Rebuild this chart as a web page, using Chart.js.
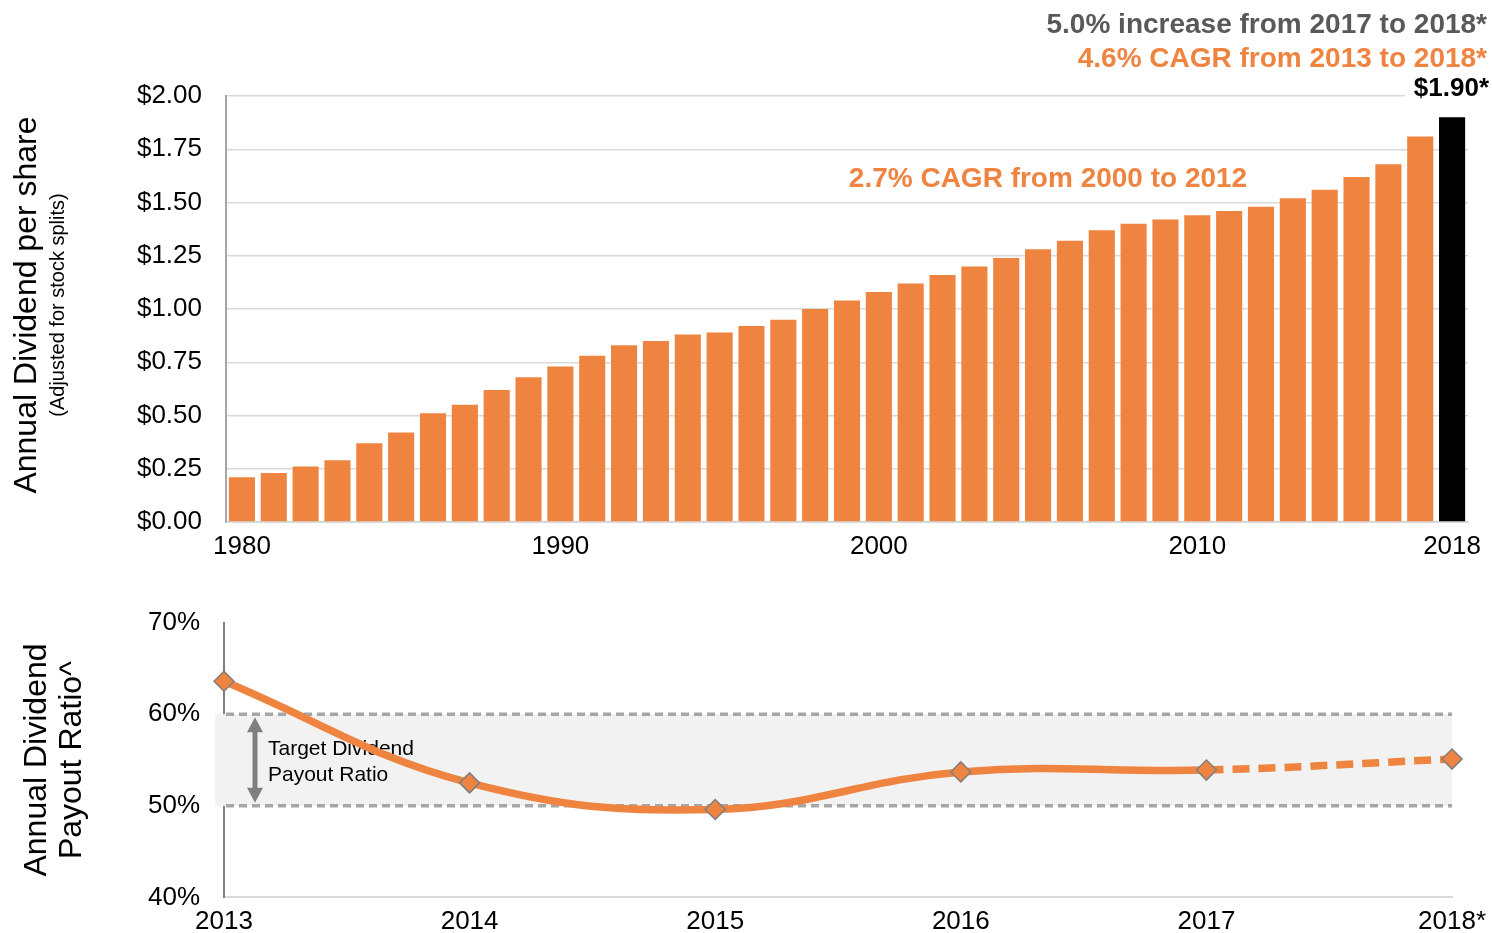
<!DOCTYPE html>
<html>
<head>
<meta charset="utf-8">
<script src="https://cdn.jsdelivr.net/npm/chart.js@4"></script>
<style>
  body { margin: 0; background: #fff; overflow: hidden; }
  #wrap { position: relative; width: 1492px; height: 933px; overflow: hidden; }
  #top { position: absolute; left: 0; top: 0; }
  #bottom { position: absolute; left: 0; top: 583px; }
</style>
</head>
<body>
<div id="wrap">
  <canvas id="top" width="1492" height="570"></canvas>
  <canvas id="bottom" width="1495" height="354"></canvas>
</div>
<script>
// ---- data ----
const years = [1980,1981,1982,1983,1984,1985,1986,1987,1988,1989,
  1990,1991,1992,1993,1994,1995,1996,1997,1998,1999,
  2000,2001,2002,2003,2004,2005,2006,2007,2008,2009,
  2010,2011,2012,2013,2014,2015,2016,2017,2018];
const dividends = [0.21,0.23,0.26,0.29,0.37,0.42,0.51,0.55,0.62,0.68,
  0.73,0.78,0.83,0.85,0.88,0.89,0.92,0.95,1.00,1.04,
  1.08,1.12,1.16,1.20,1.24,1.28,1.32,1.37,1.40,1.42,
  1.44,1.46,1.48,1.52,1.56,1.62,1.68,1.81,1.90];
const shownYears = [1980, 1990, 2000, 2010, 2018];
const payoutYears = ["2013","2014","2015","2016","2017","2018*"];
const payoutRatio = [63.6, 52.5, 49.6, 53.7, 53.9, 55.1];
const targetRange = [50, 60];

const ORANGE = "#EE8440";
const FONT = "'Liberation Sans', Arial, sans-serif";

Chart.defaults.font.family = FONT;
Chart.defaults.color = "#000";
Chart.defaults.animation = false;

// ---- Dividend per share (bars) ----
const topText = {
  id: "topText",
  afterDraw(chart) {
    const c = chart.ctx;
    const y = chart.scales.y;
    c.save();
    c.save();
    c.translate(27, 305);
    c.rotate(-Math.PI / 2);
    c.textAlign = "center";
    c.textBaseline = "middle";
    c.fillStyle = "#000";
    c.font = "32px " + FONT;
    c.fillText("Annual Dividend per share", 0, 0);
    c.font = "20px " + FONT;
    c.fillText("(Adjusted for stock splits)", 0, 31);
    c.restore();

    c.textAlign = "right";
    c.textBaseline = "middle";
    c.font = "bold 28px " + FONT;
    c.fillStyle = "#595959";
    c.fillText("5.0% increase from 2017 to 2018*", 1487, 25);
    c.fillStyle = ORANGE;
    c.fillText("4.6% CAGR from 2013 to 2018*", 1487, 59);

    c.fillStyle = "#fff";
    c.fillRect(1405, y.getPixelForValue(2) - 3, 87, 8);
    c.fillStyle = "#000";
    c.font = "bold 26px " + FONT;
    c.fillText("$1.90*", 1489, 89);

    c.textAlign = "center";
    c.fillStyle = ORANGE;
    c.font = "bold 28px " + FONT;
    c.fillText("2.7% CAGR from 2000 to 2012", 1048, 179);
    c.restore();
  }
};

new Chart(document.getElementById("top"), {
  type: "bar",
  data: {
    labels: years,
    datasets: [{
      data: dividends,
      backgroundColor: years.map(yr => yr === 2018 ? "#000" : ORANGE),
      borderWidth: 0,
      barPercentage: 0.82,
      categoryPercentage: 1
    }]
  },
  options: {
    responsive: false,
    layout: { padding: { top: 96, right: 24, left: 0, bottom: 0 } },
    plugins: { legend: { display: false }, tooltip: { enabled: false } },
    scales: {
      x: {
        grid: { display: false, drawTicks: false },
        border: { color: "#D9D9D9", width: 2 },
        ticks: {
          autoSkip: false, maxRotation: 0, padding: 9,
          font: { size: 26 },
          callback: function (v) {
            const yr = this.getLabelForValue(v);
            return shownYears.includes(Number(yr)) ? String(yr) : "";
          }
        },
        afterFit: s => { s.height = 48; }
      },
      y: {
        min: 0, max: 2,
        grid: { color: "#D9D9D9", lineWidth: 1.5, drawTicks: false },
        border: { color: "#A6A6A6", width: 2 },
        ticks: {
          stepSize: 0.25, padding: 24,
          font: { size: 26 },
          callback: v => "$" + v.toFixed(2)
        },
        afterFit: s => { s.width = 226; }
      }
    }
  },
  plugins: [topText]
});

// ---- Payout ratio (line) ----
const targetBand = {
  id: "targetBand",
  beforeDatasetsDraw(chart) {
    const c = chart.ctx;
    const a = chart.chartArea;
    const y = chart.scales.y;
    const yHi = y.getPixelForValue(targetRange[1]);
    const yLo = y.getPixelForValue(targetRange[0]);
    c.save();
    c.fillStyle = "#F2F2F2";
    c.fillRect(a.left - 9, yHi, a.right - a.left + 9, yLo - yHi);
    c.strokeStyle = "#A6A6A6";
    c.lineWidth = 3.5;
    c.setLineDash([8, 5]);
    [yHi, yLo].forEach(py => {
      c.beginPath();
      c.moveTo(a.left + 2, py);
      c.lineTo(a.right, py);
      c.stroke();
    });
    c.setLineDash([]);
    // double arrow
    const ax = a.left + 31;
    c.strokeStyle = "#808080";
    c.fillStyle = "#808080";
    c.lineWidth = 5;
    c.beginPath();
    c.moveTo(ax, yHi + 14);
    c.lineTo(ax, yLo - 14);
    c.stroke();
    c.beginPath();
    c.moveTo(ax, yHi + 3); c.lineTo(ax - 8, yHi + 18); c.lineTo(ax + 8, yHi + 18);
    c.closePath(); c.fill();
    c.beginPath();
    c.moveTo(ax, yLo - 3); c.lineTo(ax - 8, yLo - 18); c.lineTo(ax + 8, yLo - 18);
    c.closePath(); c.fill();
    c.fillStyle = "#000";
    c.font = "21px " + FONT;
    c.textAlign = "left";
    c.textBaseline = "middle";
    c.fillText("Target Dividend", a.left + 44, yHi + 35);
    c.fillText("Payout Ratio", a.left + 44, yHi + 61);
    c.restore();
  },
  afterDraw(chart) {
    const c = chart.ctx;
    c.save();
    c.translate(37, 177);
    c.rotate(-Math.PI / 2);
    c.textAlign = "center";
    c.textBaseline = "middle";
    c.fillStyle = "#000";
    c.font = "32px " + FONT;
    c.fillText("Annual Dividend", 0, 0);
    c.fillText("Payout Ratio^", 0, 35);
    c.restore();
  }
};

new Chart(document.getElementById("bottom"), {
  type: "line",
  data: {
    labels: payoutYears,
    datasets: [{
      data: payoutRatio,
      borderColor: ORANGE,
      borderWidth: 7.5,
      tension: 0.4,
      pointStyle: "rectRot",
      pointRadius: 10,
      pointBackgroundColor: ORANGE,
      pointBorderColor: "#7F7F7F",
      pointBorderWidth: 1.5,
      segment: {
        borderDash: ctx => ctx.p0DataIndex === payoutYears.length - 2 ? [17, 9] : undefined
      }
    }]
  },
  options: {
    responsive: false,
    layout: { padding: { top: 39, right: 37, left: 0, bottom: 0 } },
    plugins: { legend: { display: false }, tooltip: { enabled: false } },
    scales: {
      x: {
        offset: false,
        grid: { display: false, drawTicks: false },
        border: { color: "#D9D9D9", width: 2 },
        ticks: { maxRotation: 0, padding: 9, font: { size: 26 } },
        afterFit: s => { s.height = 32; }
      },
      y: {
        min: 40, max: 70,
        grid: { display: false, drawTicks: false },
        border: { color: "#808080", width: 2 },
        ticks: { stepSize: 10, padding: 24, font: { size: 26 }, callback: v => v + "%" },
        afterFit: s => { s.width = 224; }
      }
    }
  },
  plugins: [targetBand]
});
</script>
</body>
</html>
